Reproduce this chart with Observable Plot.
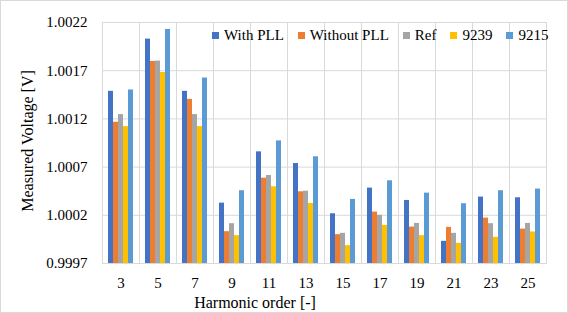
<!DOCTYPE html>
<html><head><meta charset="utf-8">
<script src="https://cdn.jsdelivr.net/npm/d3@7"></script>
<script src="https://cdn.jsdelivr.net/npm/@observablehq/plot@0.6"></script>
<style>
body{margin:0;background:#fff;}
#wrap{position:relative;width:568px;height:313px;font-family:"Liberation Serif",serif;color:#000;}
#wrap svg{display:block;font-family:"Liberation Serif",serif !important;font-size:15px !important;}
#wrap svg text{font-family:"Liberation Serif",serif !important;font-size:15px !important;fill:#000;}
#border{position:absolute;left:0;top:0;width:566px;height:311px;border:1px solid #d9d9d9;pointer-events:none;}
.legend{position:absolute;top:26px;left:212px;display:flex;gap:14px;font-family:"Liberation Serif",serif;font-size:15px;line-height:18px;white-space:nowrap;}
.legend .sw{display:inline-block;width:7px;height:7px;margin-right:5px;vertical-align:1px;}
.xtitle{position:absolute;left:255px;top:303px;transform:translate(-50%,-50%);font-family:"Liberation Serif",serif;font-size:16px;white-space:nowrap;}
.ytitle{position:absolute;left:28px;top:141px;transform:translate(-50%,-50%) rotate(-90deg);font-family:"Liberation Serif",serif;font-size:16px;white-space:nowrap;}
</style>
</head><body>
<div id="wrap"></div>
<script>
const harmonics = [3, 5, 7, 9, 11, 13, 15, 17, 19, 21, 23, 25];
const seriesNames = ["With PLL", "Without PLL", "Ref", "9239", "9215"];
const seriesColors = ["#4472C4", "#ED7D31", "#A5A5A5", "#FFC000", "#5B9BD5"];
const withPLL    = [1.001486, 1.002028, 1.001486, 1.000326, 1.000858, 1.000737, 1.000216, 1.000482, 1.000354, 0.999930, 1.000389, 1.000382];
const withoutPLL = [1.001165, 1.001796, 1.001403, 1.000030, 1.000585, 1.000444, 0.999999, 1.000233, 1.000078, 1.000075, 1.000171, 1.000057];
const refValues  = [1.001245, 1.001800, 1.001245, 1.000113, 1.000613, 1.000450, 1.000013, 1.000200, 1.000116, 1.000013, 1.000113, 1.000116];
const ni9239     = [1.001120, 1.001682, 1.001120, 0.999989, 1.000496, 1.000323, 0.999885, 1.000095, 0.999989, 0.999909, 0.999971, 1.000027];
const ni9215     = [1.001500, 1.002128, 1.001624, 1.000455, 1.000972, 1.000807, 1.000365, 1.000558, 1.000430, 1.000320, 1.000455, 1.000472];
const yTicks = [0.9997, 1.0002, 1.0007, 1.0012, 1.0017, 1.0022];
const xTitle = "Harmonic order [-]";
const yTitle = "Measured Voltage [V]";

const seriesValues = [withPLL, withoutPLL, refValues, ni9239, ni9215];
const rows = [];
harmonics.forEach((h, i) => seriesValues.forEach((arr, j) => rows.push({harmonic: h, series: seriesNames[j], value: arr[i]})));

const plot = Plot.plot({
  width: 568, height: 313,
  marginLeft: 100, marginRight: 20, marginTop: 22, marginBottom: 50,
  style: {fontFamily: "Liberation Serif", fontSize: "15px", color: "#000", background: "#fff", overflow: "visible"},
  fx: {domain: harmonics, paddingInner: 0, paddingOuter: 0, label: null, tickSize: 0, tickPadding: 14},
  x: {domain: seriesNames, paddingInner: 0, paddingOuter: 0.72, axis: null},
  y: {domain: [yTicks[0], yTicks[yTicks.length - 1]], ticks: yTicks, tickFormat: d => d.toFixed(4), tickSize: 0, tickPadding: 15, label: null},
  color: {domain: seriesNames, range: seriesColors},
  marks: [
    Plot.gridY(yTicks, {stroke: "#d9d9d9", strokeOpacity: 1}),
    Plot.frame({stroke: "#d9d9d9", strokeOpacity: 1}),
    Plot.barY(rows, {fx: "harmonic", x: "series", y1: yTicks[0], y2: "value", fill: "series"})
  ]
});
const wrap = document.getElementById("wrap");
wrap.appendChild(plot);

const legend = document.createElement("div");
legend.className = "legend";
seriesNames.forEach((name, i) => {
  const item = document.createElement("span");
  const sw = document.createElement("span");
  sw.className = "sw";
  sw.style.background = seriesColors[i];
  item.appendChild(sw);
  item.appendChild(document.createTextNode(name));
  legend.appendChild(item);
});
wrap.appendChild(legend);

const xt = document.createElement("div");
xt.className = "xtitle"; xt.textContent = xTitle; wrap.appendChild(xt);
const yt = document.createElement("div");
yt.className = "ytitle"; yt.textContent = yTitle; wrap.appendChild(yt);
const border = document.createElement("div");
border.id = "border"; wrap.appendChild(border);
</script>
</body></html>
